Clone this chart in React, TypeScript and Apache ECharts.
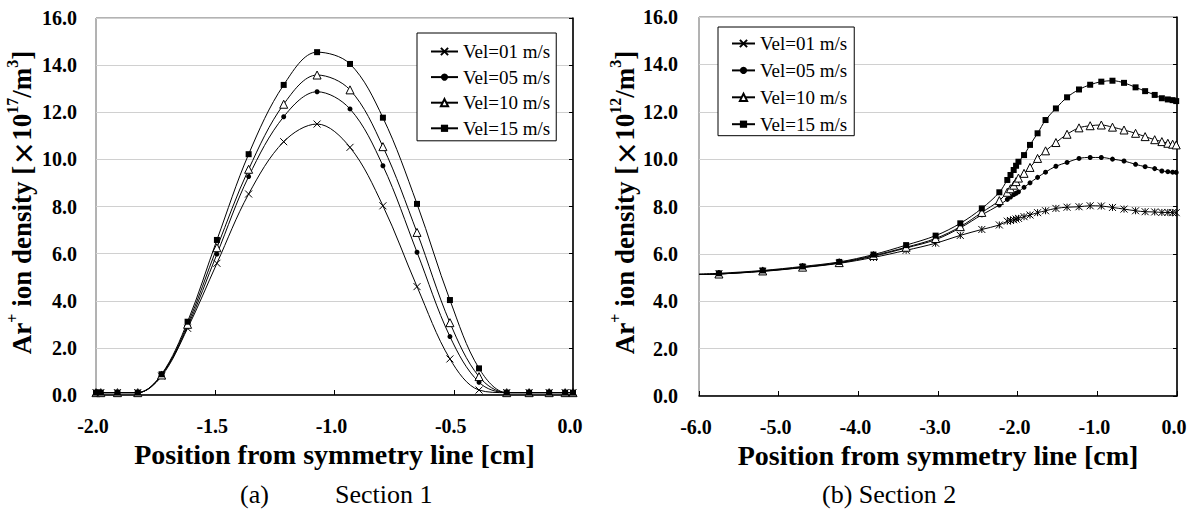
import React, { useEffect, useRef } from "react";
import * as echarts from "echarts";

const SERIF = "Liberation Serif";

const seriesNames = ["Vel=01 m/s", "Vel=05 m/s", "Vel=10 m/s", "Vel=15 m/s"];

// Section 1
const xA = [-2.0, -1.98, -1.91, -1.825, -1.725, -1.616, -1.493, -1.36, -1.213, -1.073, -0.935, -0.797, -0.654, -0.516, -0.394, -0.278, -0.184, -0.1, -0.033, 0.0];
const vel01A = [0.1, 0.1, 0.1, 0.1, 0.8, 2.83, 5.59, 8.53, 10.75, 11.5, 10.51, 8.03, 4.6, 1.53, 0.21, 0.1, 0.1, 0.1, 0.1, 0.1];
const vel05A = [0.1, 0.1, 0.1, 0.1, 0.85, 2.9, 5.98, 9.27, 11.81, 12.87, 12.14, 9.73, 6.06, 2.48, 0.54, 0.1, 0.1, 0.1, 0.1, 0.1];
const vel10A = [0.1, 0.1, 0.1, 0.1, 0.85, 3.0, 6.25, 9.58, 12.34, 13.58, 12.95, 10.54, 6.9, 3.07, 0.78, 0.1, 0.1, 0.1, 0.1, 0.1];
const vel15A = [0.1, 0.1, 0.1, 0.1, 0.88, 3.11, 6.58, 10.22, 13.16, 14.55, 14.05, 11.77, 8.11, 4.03, 1.13, 0.1, 0.1, 0.1, 0.1, 0.1];

// Section 2 (first point at -6.0 is the line start, drawn without a marker)
const xB = [-6.0, -5.75, -5.2, -4.7, -4.24, -3.81, -3.4, -3.03, -2.72, -2.45, -2.23, -2.13, -2.09, -2.05, -2.02, -1.99, -1.92, -1.845, -1.75, -1.65, -1.52, -1.38, -1.23, -1.09, -0.95, -0.81, -0.665, -0.52, -0.4, -0.28, -0.19, -0.115, -0.055, -0.01];
const vel01B = [5.13, 5.15, 5.26, 5.42, 5.6, 5.85, 6.15, 6.45, 6.78, 7.03, 7.22, 7.38, 7.41, 7.44, 7.47, 7.5, 7.57, 7.64, 7.74, 7.82, 7.92, 7.97, 7.99, 8.03, 8.02, 7.96, 7.89, 7.82, 7.78, 7.77, 7.75, 7.75, 7.74, 7.74];
const vel05B = [5.13, 5.15, 5.27, 5.43, 5.62, 5.9, 6.25, 6.6, 7.1, 7.65, 8.06, 8.3, 8.4, 8.5, 8.56, 8.62, 8.81, 9.0, 9.23, 9.45, 9.7, 9.86, 10.03, 10.07, 10.07, 10.0, 9.92, 9.78, 9.68, 9.6, 9.5, 9.47, 9.45, 9.44];
const vel10B = [5.13, 5.15, 5.28, 5.44, 5.63, 5.93, 6.28, 6.65, 7.15, 7.75, 8.25, 8.6, 8.75, 8.9, 9.05, 9.2, 9.4, 9.65, 10.03, 10.35, 10.7, 11.05, 11.32, 11.41, 11.44, 11.35, 11.23, 11.09, 10.95, 10.82, 10.74, 10.67, 10.63, 10.6];
const vel15B = [5.15, 5.18, 5.3, 5.47, 5.66, 5.97, 6.37, 6.77, 7.29, 7.92, 8.6, 9.12, 9.33, 9.54, 9.72, 9.89, 10.17, 10.6, 11.09, 11.65, 12.14, 12.61, 12.94, 13.14, 13.27, 13.31, 13.22, 13.03, 12.87, 12.71, 12.57, 12.52, 12.49, 12.45];

const X_PATH = "path://M0,0L10,10M10,0L0,10";
const STAR_PATH = "path://M0,0L10,10M10,0L0,10M5,0L5,10";

type Marker = { symbol: string; size: number; itemStyle: any };
const markers = (first: string): Marker[] => [
  { symbol: first, size: 7, itemStyle: { color: "#000", borderColor: "#000", borderWidth: 1 } },
  { symbol: "circle", size: 5, itemStyle: { color: "#000", borderWidth: 0 } },
  { symbol: "triangle", size: 8, itemStyle: { color: "#fff", borderColor: "#000", borderWidth: 1 } },
  { symbol: "rect", size: 6, itemStyle: { color: "#000", borderWidth: 0 } },
];

function buildSeries(xs: number[], ys: number[][], idx: number, first: string, hideFirst: boolean) {
  const ms = markers(first);
  return ys.map((vals, k) => ({
    type: "line",
    name: seriesNames[k],
    xAxisIndex: idx,
    yAxisIndex: idx,
    data: xs.map((x, i) => [x, vals[i]]),
    smooth: 0.35,
    symbol: ms[k].symbol,
    symbolSize: (_v: any, p: any) => (hideFirst && p.dataIndex === 0 ? 0 : ms[k].size),
    showAllSymbol: true,
    clip: true,
    lineStyle: { color: "#000", width: 1 },
    itemStyle: ms[k].itemStyle,
    z: 3,
  }));
}

const yName = (exp: string) =>
  `{b|Ar}{s|+}{b| ion density [}{x|×}{b|10}{s|${exp}}{b|/m}{s|3}{b|]}`;

const yRich = {
  b: { fontSize: 27, fontWeight: "bold", fontFamily: SERIF, color: "#000", verticalAlign: "bottom", lineHeight: 31 },
  x: { fontSize: 25, fontWeight: "bold", fontFamily: "Noto Sans CJK JP", color: "#000", verticalAlign: "bottom", lineHeight: 31 },
  s: { fontSize: 16, fontWeight: "bold", fontFamily: SERIF, color: "#000", verticalAlign: "top", lineHeight: 31 },
};

function makeYAxis(idx: number, exp: string, labelMargin: number) {
  return {
    type: "value",
    gridIndex: idx,
    min: 0,
    max: 16,
    interval: 2,
    name: yName(exp),
    nameLocation: "middle",
    nameRotate: 90,
    nameGap: 61,
    nameTextStyle: { rich: yRich, padding: [0, 0, 0, 8] },
    axisLine: { show: true, lineStyle: { color: "#000", width: 1.5 } },
    axisTick: { show: true, length: 4, lineStyle: { color: "#000" } },
    axisLabel: {
      formatter: (v: number) => v.toFixed(1),
      fontFamily: SERIF,
      fontWeight: "bold",
      fontSize: 20,
      color: "#000",
      margin: labelMargin,
    },
    splitLine: { show: true, lineStyle: { color: "#d0d0d0", width: 1 } },
  };
}

function makeXAxis(idx: number, min: number, interval: number) {
  return {
    type: "value",
    gridIndex: idx,
    min,
    max: 0,
    interval,
    name: "Position from symmetry line [cm]",
    nameLocation: "middle",
    nameGap: 40,
    nameTextStyle: { fontFamily: SERIF, fontWeight: "bold", fontSize: 28, color: "#000" },
    axisLine: { show: true, onZero: false, lineStyle: { color: "#000", width: 1.5 } },
    axisTick: { show: true, inside: true, length: 5, lineStyle: { color: "#000" } },
    axisLabel: {
      formatter: (v: number) => (Math.abs(v) < 1e-9 ? "0.0" : v.toFixed(1)),
      fontFamily: SERIF,
      fontWeight: "bold",
      fontSize: 20,
      color: "#000",
      margin: 21,
      padding: [0, 6, 0, 0],
    },
    splitLine: { show: false },
  };
}

function makeLegend(left: number, top: number, padding: number[], itemGap: number, itemWidth: number, textGap: number) {
  return {
    orient: "vertical",
    left,
    top,
    data: seriesNames,
    backgroundColor: "#fff",
    borderColor: "#000",
    borderWidth: 1,
    borderRadius: 0,
    padding,
    itemWidth,
    itemHeight: 9,
    itemGap,
    itemTextGap: textGap,
    selectedMode: false,
    textStyle: { fontFamily: SERIF, fontSize: 19, color: "#000" },
  };
}

export default function App() {
  const ref = useRef<HTMLDivElement>(null);
  useEffect(() => {
    document.body.style.margin = "0";
    if (!ref.current) return;
    const chart = echarts.init(ref.current, undefined, { renderer: "svg" });
    chart.setOption({
      animation: false,
      backgroundColor: "#fff",
      textStyle: { fontFamily: SERIF },
      grid: [
        { left: 96, top: 18, width: 477, height: 377, show: true, borderColor: "#666", borderWidth: 1, backgroundColor: "transparent" },
        { left: 699, top: 17, width: 478, height: 379, show: true, borderColor: "#666", borderWidth: 1, backgroundColor: "transparent" },
      ],
      xAxis: [makeXAxis(0, -2, 0.5), makeXAxis(1, -6, 1)],
      yAxis: [makeYAxis(0, "17", 19), makeYAxis(1, "12", 21)],
      legend: [
        makeLegend(417, 33, [9, 6, 3, 13], 6.6, 27, 3),
        makeLegend(718, 27, [7, 7, 2, 13], 7.9, 23, 6),
      ],
      series: [
        ...buildSeries(xA, [vel01A, vel05A, vel10A, vel15A], 0, X_PATH, false),
        ...buildSeries(xB, [vel01B, vel05B, vel10B, vel15B], 1, STAR_PATH, true),
      ],
      graphic: [
        { type: "text", left: 240, top: 481, style: { text: "(a)", fontFamily: SERIF, fontSize: 26, fill: "#000" } },
        { type: "text", left: 335, top: 481, style: { text: "Section 1", fontFamily: SERIF, fontSize: 26, fill: "#000" } },
        { type: "text", left: 822, top: 481, style: { text: "(b) Section 2", fontFamily: SERIF, fontSize: 26, fill: "#000" } },
      ],
    });
    return () => chart.dispose();
  }, []);
  return <div ref={ref} style={{ width: 1195, height: 510 }} />;
}
